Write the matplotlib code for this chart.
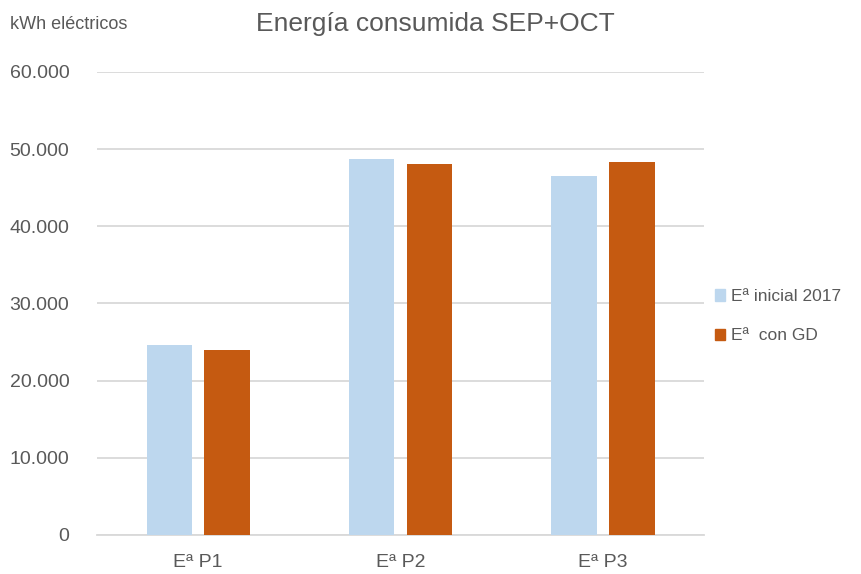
import matplotlib.pyplot as plt
import numpy as np
from matplotlib import font_manager
from matplotlib.patches import Patch

categories = ["Eª P1", "Eª P2", "Eª P3"]
inicial_2017 = [24660, 48700, 46460]
con_gd = [23930, 48060, 48320]
series_names = ["Eª inicial 2017", "Eª  con GD"]
yticks = [0, 10000, 20000, 30000, 40000, 50000, 60000]
ytick_labels = ["0", "10.000", "20.000", "30.000", "40.000", "50.000", "60.000"]

BLUE = "#BDD7EE"
ORANGE = "#C55A11"
TEXT = "#595959"
GRID = "#D9D9D9"

names = {f.name for f in font_manager.fontManager.ttflist}
base_font = "Liberation Sans" if "Liberation Sans" in names else "DejaVu Sans"
plt.rcParams['font.family'] = [base_font, 'DejaVu Sans']

fig = plt.figure(figsize=(8.61, 5.74), dpi=100)
ax = fig.add_axes([0.1127, 0.068, 0.705, 0.8066])

x = np.arange(len(categories))
w = 0.225
off = 0.143
ax.bar(x - off, inicial_2017, w, color=BLUE, zorder=3)
ax.bar(x + off, con_gd, w, color=ORANGE, zorder=3)

ax.set_xlim(-0.5, 2.5)
ax.set_ylim(0, 60000)
ax.set_yticks(yticks)
ax.set_yticklabels(ytick_labels)
ax.set_xticks(x)
ax.set_xticklabels(categories)
ax.yaxis.grid(True, color=GRID, linewidth=1.3, zorder=0)
for s in ["top", "right", "left"]:
    ax.spines[s].set_visible(False)
ax.spines["bottom"].set_color(GRID)
ax.spines["bottom"].set_linewidth(1.3)
ax.tick_params(axis="both", length=0, labelsize=14, colors=TEXT)
ax.tick_params(axis="y", pad=20)
ax.tick_params(axis="x", pad=14)

fig.text(0.506, 0.958, "Energía consumida SEP+OCT", ha="center", va="center",
         fontsize=19, color=TEXT)
fig.text(0.012, 0.958, "kWh eléctricos", ha="left", va="center",
         fontsize=13, color=TEXT)

handles = [Patch(color=BLUE), Patch(color=ORANGE)]
leg = fig.legend(handles, series_names, loc="center left", bbox_to_anchor=(0.812, 0.449),
                 frameon=False, fontsize=12.5, handlelength=0.6, handleheight=0.6,
                 handletextpad=0.35, labelspacing=1.4)
for t in leg.get_texts():
    t.set_color(TEXT)

fig.savefig("out.png", dpi=100)
